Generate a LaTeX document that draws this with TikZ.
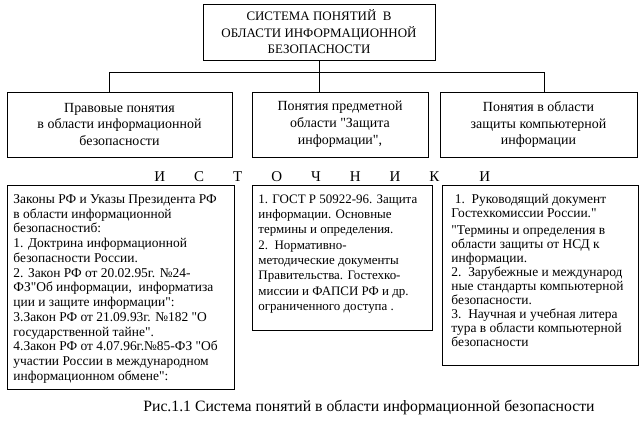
\documentclass[tikz,border=0pt]{standalone}
\usepackage{fontspec}
\setmainfont{Liberation Serif}[Ligatures=TeXOff]
\usepackage{tikz}

\begin{document}
\begin{tikzpicture}[x=1bp,y=-1bp,line width=0.9bp,
  headbox/.style={draw,align=center,inner sep=0pt,font=\fontsize{13}{16.5}\selectfont},
  kindbox/.style={draw,align=center,inner sep=0pt,minimum height=65bp,font=\fontsize{14}{17}\selectfont},
  srcbox/.style={draw,anchor=north west,inner ysep=9bp}]
\useasboundingbox (0,0) rectangle (643,434);
% top
\node [headbox,minimum width=232bp,minimum height=56bp] (sys) at (319,32)
  {СИСТЕМА ПОНЯТИЙ\ \ В\\ОБЛАСТИ ИНФОРМАЦИОННОЙ\\БЕЗОПАСНОСТИ};
% three kinds of concepts
\node [kindbox,minimum width=225bp] (legal) at (119.5,124.5)
  {Правовые понятия\\в области информационной\\безопасности};
\node [kindbox,minimum width=176bp] (subj) at (340,124.5)
  {Понятия предметной\\области "Защита\\информации",};
\node [kindbox,minimum width=197bp] (comp) at (538.5,124.5)
  {Понятия в области\\защиты компьютерной\\информации};
\coordinate (bus) at (0,72);
\draw (sys.south) -- (sys.south |- subj.north);
\draw ([xshift=-10bp]legal.north) |- ([xshift=6bp]comp.north |- bus) -- ([xshift=6bp]comp.north);
% sources
\node [anchor=west,inner sep=0pt,font=\fontsize{15}{15}\selectfont] (src) at (154,177)
  {И\hspace{29bp}С\hspace{29bp}Т\hspace{29bp}О\hspace{29bp}Ч\hspace{29bp}Н\hspace{29bp}И\hspace{29bp}К\hspace{40bp}И};
\node [srcbox,inner xsep=6bp,font=\fontsize{13.5}{14.8}\selectfont] (laws) at (7,185)
  {\parbox[t][186bp][t]{215bp}{\raggedright
  Законы РФ и Указы Президента РФ\\
  в области информационной\\
  безопасностиб:\\
  1. Доктрина информационной\\
  безопасности России.\\
  2. Закон РФ от 20.02.95г. №24-\\
  ФЗ"Об информации,\ \ информатиза\\
  ции и защите информации":\\
  3.Закон РФ от 21.09.93г. №182 "О\\
  государственной тайне".\\
  4.Закон РФ от 4.07.96г.№85-ФЗ "Об\\
  участии России в международном\\
  информационном обмене":}};
\node [srcbox,inner xsep=6bp,font=\fontsize{13}{15.4}\selectfont] (gost) at (252,185)
  {\parbox[t][127bp][t]{168bp}{\raggedright
  1. ГОСТ Р 50922-96. Защита\\
  информации. Основные\\
  термины и определения.\\
  2.\ \ Нормативно-\\
  методические документы\\
  Правительства. Гостехко-\\
  миссии и ФАПСИ РФ и др.\\
  ограниченного доступа .}};
\node [srcbox,inner xsep=9bp,font=\fontsize{13.5}{14}\selectfont] (docs) at (442,185)
  {\parbox[t][162bp][t]{178bp}{\raggedright
  \ 1.\ \ Руководящий документ\\
  Гостехкомиссии России."\\[3bp]
  "Термины и определения в\\
  области защиты от НСД к\\
  информации.\\
  2.\ \ Зарубежные и международ\\
  ные стандарты компьютерной\\
  безопасности.\\
  3.\ \ Научная и учебная литера\\
  тура в области компьютерной\\
  безопасности}};
% caption
\node [font=\fontsize{15.8}{16}\selectfont,inner sep=0pt] (cap) at (369,408)
  {Рис.1.1 Система понятий в области информационной безопасности};
\end{tikzpicture}
\end{document}
